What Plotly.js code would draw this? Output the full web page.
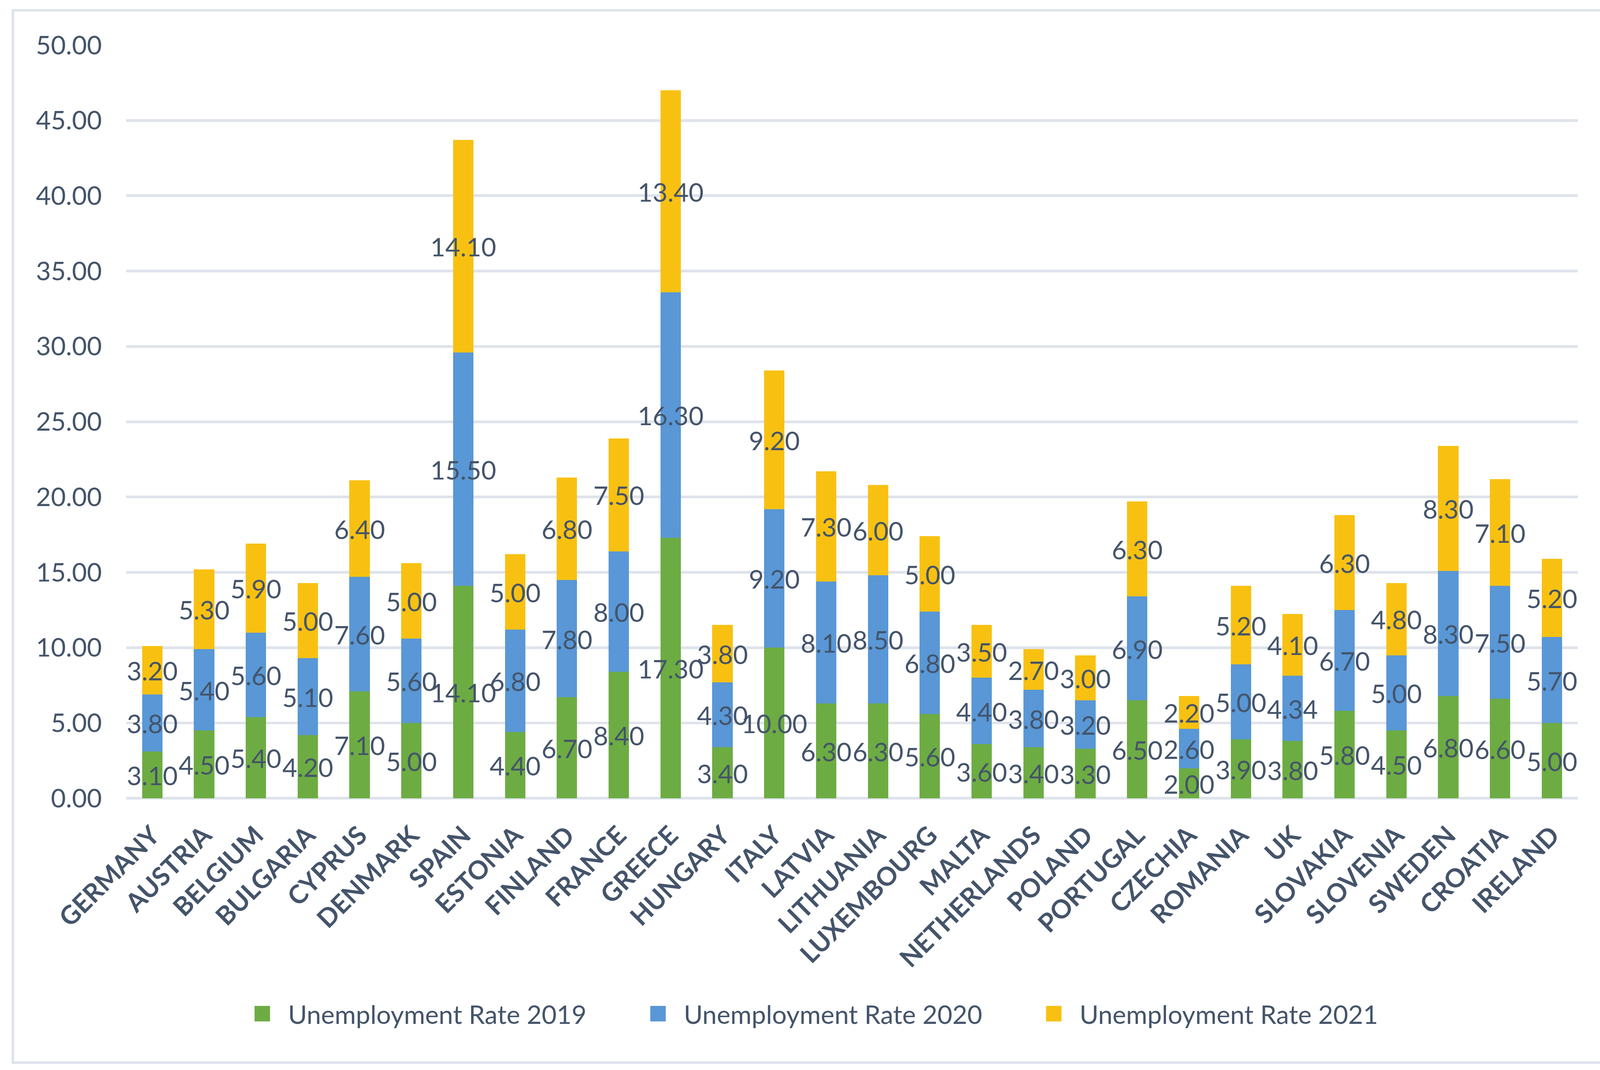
<!DOCTYPE html>
<html>
<head>
<meta charset="utf-8">
<script src="https://cdn.plot.ly/plotly-3.0.1.min.js"></script>
<style>
html, body { margin:0; padding:0; background:#ffffff; overflow:hidden; }
#wrap { position:absolute; left:0; top:0; width:1260px; height:830px; transform:scale(3.3); transform-origin:0 0; }
#chart { position:absolute; left:0; top:0; width:1260px; height:830px; }
#frame { position:absolute; left:8.9px; top:6.6px; width:1242.6px; height:818.6px; box-sizing:border-box; border:2.1px solid #DEE3EB; pointer-events:none; }
</style>
</head>
<body>
<div id="wrap">
  <div id="chart"></div>
  <div id="frame"></div>
</div>
<script>
const countries = ['GERMANY','AUSTRIA','BELGIUM','BULGARIA','CYPRUS','DENMARK','SPAIN','ESTONIA','FINLAND','FRANCE','GREECE','HUNGARY','ITALY','LATVIA','LITHUANIA','LUXEMBOURG','MALTA','NETHERLANDS','POLAND','PORTUGAL','CZECHIA','ROMANIA','UK','SLOVAKIA','SLOVENIA','SWEDEN','CROATIA','IRELAND'];
const rate2019 = [3.10,4.50,5.40,4.20,7.10,5.00,14.10,4.40,6.70,8.40,17.30,3.40,10.00,6.30,6.30,5.60,3.60,3.40,3.30,6.50,2.00,3.90,3.80,5.80,4.50,6.80,6.60,5.00];
const rate2020 = [3.80,5.40,5.60,5.10,7.60,5.60,15.50,6.80,7.80,8.00,16.30,4.30,9.20,8.10,8.50,6.80,4.40,3.80,3.20,6.90,2.60,5.00,4.34,6.70,5.00,8.30,7.50,5.70];
const rate2021 = [3.20,5.30,5.90,5.00,6.40,5.00,14.10,5.00,6.80,7.50,13.40,3.80,9.20,7.30,6.00,5.00,3.50,2.70,3.00,6.30,2.20,5.20,4.10,6.30,4.80,8.30,7.10,5.20];
const seriesNames = ['Unemployment Rate 2019','Unemployment Rate 2020','Unemployment Rate 2021'];
const seriesColors = ['#6DAC43','#5997D6','#F8C112'];

const FONT = 'Lato, "Open Sans", sans-serif';
const TXT = '#44546A';

function mkTrace(vals, i) {
  return {
    type: 'bar',
    x: countries,
    y: vals,
    name: seriesNames[i],
    marker: { color: seriesColors[i], line: { width: 0 } },
    text: vals.map(v => v.toFixed(2)),
    textposition: 'inside',
    insidetextanchor: 'middle',
    textangle: 0,
    constraintext: 'none',
    textfont: { family: FONT, size: 20, color: TXT },
    hoverinfo: 'skip'
  };
}
const data = [mkTrace(rate2019,0), mkTrace(rate2020,1), mkTrace(rate2021,2)];

const layout = {
  width: 1260,
  height: 830,
  barmode: 'stack',
  bargap: 0.607,
  margin: { l: 98.2, r: 36.4, t: 34.5, b: 211, pad: 0 },
  paper_bgcolor: 'rgba(0,0,0,0)',
  plot_bgcolor: '#ffffff',
  font: { family: FONT, color: TXT, size: 20 },
  uniformtext: { mode: 'show', minsize: 20 },
  showlegend: true,
  xaxis: {
    type: 'category',
    tickangle: -45,
    tickfont: { family: FONT, size: 20, color: TXT, weight: 'bold' },
    showgrid: false, zeroline: false, showline: false, ticks: '',
    ticklabelstandoff: 12,
    fixedrange: true
  },
  yaxis: {
    range: [0, 50],
    tick0: 0, dtick: 5,
    tickformat: '.2f',
    tickfont: { family: FONT, size: 20, color: TXT },
    showgrid: true, gridcolor: '#DEE3EB', gridwidth: 2.1,
    zeroline: true, zerolinecolor: '#DEE3EB', zerolinewidth: 2.1,
    showline: false, ticks: '',
    ticklabelstandoff: 18,
    fixedrange: true
  },
  legend: {
    orientation: 'h',
    x: 0.0759, xanchor: 'left',
    y: -0.286, yanchor: 'middle',
    font: { family: FONT, size: 20, color: TXT },
    entrywidth: 262, entrywidthmode: 'pixels',
    traceorder: 'normal',
    bgcolor: 'rgba(0,0,0,0)'
  }
};

Plotly.newPlot('chart', data, layout, { staticPlot: true, displayModeBar: false });
</script>
</body>
</html>
